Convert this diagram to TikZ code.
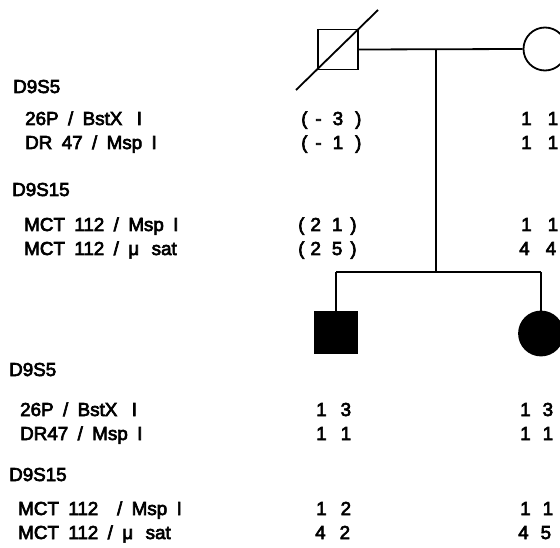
\documentclass[tikz,border=0pt]{standalone}
\usepackage{fontspec}
\setmainfont[WordSpace=1.8,FakeBold=3.5]{Liberation Sans}
\begin{document}
\begin{tikzpicture}[x=1pt,y=-1pt,
  pedline/.style={line width=1.8pt},
  kidline/.style={line width=1.4pt},
  male/.style={draw,line width=1.8pt,rectangle,minimum size=40pt,inner sep=0pt},
  female/.style={draw,line width=1.8pt,circle,minimum size=43pt,inner sep=0pt},
  lbl/.style={anchor=base west,inner sep=0pt,font=\fontsize{18.8}{20}\selectfont},
  gt/.style={anchor=base west,inner sep=0pt,font=\fontsize{18.8}{20}\selectfont}]
\useasboundingbox (0,0) rectangle (560,548);
\clip (0,0) rectangle (560,548);

% parents
\node[male] (father) at (338,49.5) {};
\node[female] (mother) at (545,49) {};
\coordinate (dA) at (296,90);
\coordinate (dB) at (378,10);
\draw[pedline] (dA) -- (dB);
\draw[pedline] (father.east) -- (mother.west);
\coordinate (mate) at (father.east -| 436,0);
\coordinate (sib) at (436,272);
\draw[pedline] (mate) -- (sib);

% children
\node[male,fill=black,minimum size=42pt] (son) at (336,332.5) {};
\node[female,fill=black,minimum size=44pt] (daughter) at (541,333.5) {};
\coordinate (sibL) at (son.north |- sib);
\coordinate (sibR) at (daughter.north |- sib);
\draw[kidline] (sibL) -- (sibR);
\draw[kidline] (sibL) -- (son.north);
\draw[kidline] (sibR) -- (daughter.north);

% marker labels, parents
\node[lbl] (h1) at (13,93) {D9S5};
\node[lbl] (a1) at (25,125) {26P / BstX\hspace{5pt} I};
\node[lbl] (b1) at (25,149) {DR 47 / Msp I};
\node[lbl] (h2) at (12,196) {D9S15};
\node[lbl] (c1) at (24,231) {MCT 112 / Msp I};
\node[lbl] (e1) at (24,255) {MCT 112 / μ\, sat};

% marker labels, children
\node[lbl] (h3) at (9,376) {D9S5};
\node[lbl] (a2) at (20,416) {26P / BstX\hspace{5pt} I};
\node[lbl] (b2) at (20,440) {DR47 / Msp I};
\node[lbl] (h4) at (9,481) {D9S15};
\node[lbl] (c2) at (18,515) {MCT 112 \ / Msp I};
\node[lbl] (e2) at (18,539) {MCT 112 / μ\, sat};

% father genotypes
\node[gt] (fa) at (301,125) {(\hspace{8pt}-\hspace{11pt}3\hspace{12pt})};
\node[gt] (fb) at (301,149) {(\hspace{8pt}-\hspace{11pt}1\hspace{12pt})};
\node[gt] (fc) at (298,231) {(\hspace{6pt}2\hspace{11pt}1\hspace{8pt})};
\node[gt] (fe) at (298,255) {(\hspace{6pt}2\hspace{11pt}5\hspace{8pt})};

% mother genotypes
\node[gt] (ma) at (521,125) {1\hspace{16pt}1};
\node[gt] (mb) at (521,149) {1\hspace{16pt}1};
\node[gt] (mc) at (521,231) {1\hspace{16pt}1};
\node[gt] (me) at (519,255) {4\hspace{16pt}4};

% son genotypes
\node[gt] (sa) at (316,416) {1\hspace{14pt}3};
\node[gt] (sb) at (316,440) {1\hspace{14pt}1};
\node[gt] (sc) at (316,515) {1\hspace{14pt}2};
\node[gt] (se) at (315,539) {4\hspace{14pt}2};

% daughter genotypes
\node[gt] (da) at (520,416) {1\hspace{12pt}3};
\node[gt] (db) at (520,440) {1\hspace{12pt}1};
\node[gt] (dc) at (520,515) {1\hspace{12pt}1};
\node[gt] (de) at (518,539) {4\hspace{12pt}5};
\end{tikzpicture}
\end{document}
